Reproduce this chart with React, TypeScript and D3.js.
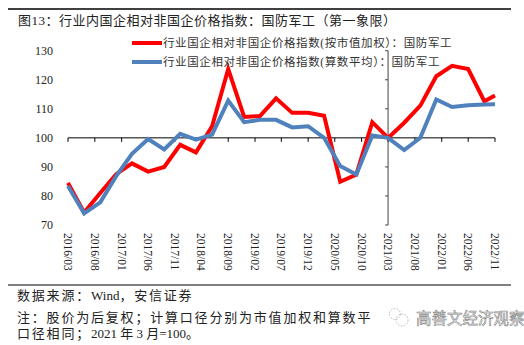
import React from "react";
import * as d3 from "d3";

const dates = ["2016/03","2016/06","2016/09","2016/12","2017/03","2017/06","2017/09","2017/12","2018/03","2018/06","2018/09","2018/12","2019/03","2019/06","2019/09","2019/12","2020/03","2020/06","2020/09","2020/12","2021/03","2021/06","2021/09","2021/12","2022/03","2022/06","2022/09","2022/11"];
const weighted = [84.5,74.3,81,87.5,91.2,88.4,90,97.6,95,104,123.7,107.2,107.5,113.6,108.6,108.6,107.6,84.9,87.4,105.4,100,105.2,111.1,121.2,124.8,123.7,112.6,114.6];
const average = [83.4,74.0,77.8,86.8,94.5,99.6,96,101.4,99.4,101.1,112.8,105.4,106.2,106.2,103.6,104,100,90.3,87.4,100.8,100,95.8,100,113.2,110.6,111.2,111.5,111.6];
const tickLabels = ["2016/03","2016/08","2017/01","2017/06","2017/11","2018/04","2018/09","2019/02","2019/07","2019/12","2020/05","2020/10","2021/03","2021/08","2022/01","2022/06","2022/11"];
const yTicks = [70,80,90,100,110,120,130];
const seriesNames = ["行业国企相对非国企价格指数(按市值加权）：国防军工","行业国企相对非国企价格指数(算数平均）：国防军工"];
const colors = ["#FF0000","#4F81BD"];

const parse = d3.timeParse("%Y/%m");

export default function App() {
  const W = 524, H = 345;
  const x = d3.scaleTime().domain([parse("2016/03")!, parse("2022/11")!]).range([68, 495]);
  const y = d3.scaleLinear().domain([70, 130]).range([225, 50.7]);
  const line = d3.line<[Date, number]>().x(d => x(d[0])).y(d => y(d[1]));
  const dd = dates.map(s => parse(s)!);
  const series = [weighted, average].map(v => dd.map((d, i) => [d, v[i]] as [Date, number]));
  const xAxisY = y(100);
  const yAxisX = x(parse("2021/03")!);
  const serif = "'Liberation Serif', 'Times New Roman', 'Noto Sans CJK SC', serif";
  const cjk = "'Liberation Serif', 'Noto Sans CJK SC', serif";
  return (
    <svg width={W} height={H} style={{ position: "absolute", left: 0, top: 0, background: "#fff" }}>
      <rect x={0} y={0} width={W} height={H} fill="#fff" />
      <line x1={8} x2={511} y1={9} y2={9} stroke="#000" strokeWidth={1.5} />
      <text x={18} y={24.5} fontSize={13} letterSpacing={0.5} fontFamily={cjk} fill="#222">图13：行业内国企相对非国企价格指数：国防军工（第一象限）</text>

      {/* y tick labels */}
      {yTicks.map(t => (
        <text key={t} x={53} y={y(t)} dy="0.35em" textAnchor="end" fontSize={12} fontFamily={serif} fill="#222">{t}</text>
      ))}
      {/* y axis */}
      <line x1={yAxisX} x2={yAxisX} y1={y(130)} y2={y(70)} stroke="#444" strokeWidth={1} />
      {yTicks.map(t => (
        <line key={"yt" + t} x1={yAxisX - 3} x2={yAxisX} y1={y(t)} y2={y(t)} stroke="#444" strokeWidth={1} />
      ))}
      {/* x axis */}
      <line x1={x(parse("2016/03")!)} x2={x(parse("2022/11")!)} y1={xAxisY} y2={xAxisY} stroke="#000" strokeWidth={1} />
      {tickLabels.map(t => (
        <line key={"xt" + t} x1={x(parse(t)!)} x2={x(parse(t)!)} y1={xAxisY} y2={xAxisY + 4} stroke="#000" strokeWidth={1} />
      ))}
      {tickLabels.map(t => (
        <text key={"xl" + t} transform={`translate(${x(parse(t)!)},233) rotate(90)`} dy="0.35em" fontSize={11.5} fontFamily={serif} fill="#222">{t}</text>
      ))}

      {series.map((s, i) => (
        <path key={i} d={line(s) || ""} fill="none" stroke={colors[i]} strokeWidth={4} strokeLinejoin="miter" />
      ))}

      {/* legend */}
      {seriesNames.map((n, i) => (
        <g key={n} transform={`translate(0,${43 + i * 19})`}>
          <rect x={131} y={-1.5} width={31} height={4} fill="#fff" />
          <line x1={132} x2={162} y1={0} y2={0} stroke={colors[i]} strokeWidth={4} />
          <text x={163} y={0} dy="0.35em" fontSize={11.5} letterSpacing={0.6} fontFamily={cjk} fill="#333">{n}</text>
        </g>
      ))}

      {/* footer */}
      <line x1={8} x2={511} y1={285} y2={285} stroke="#000" strokeWidth={1} />
      <text x={17} y={300} fontSize={13} fontFamily={cjk} fill="#222">
        <tspan letterSpacing={1.8}>数据来源：</tspan><tspan letterSpacing={0}>Wind</tspan><tspan letterSpacing={1.8}>，安信证券</tspan>
      </text>
      <text x={17} y={322} fontSize={13} letterSpacing={1.8} fontFamily={cjk} fill="#222">注：股价为后复权；计算口径分别为市值加权和算数平</text>
      <text x={17} y={338} fontSize={13} fontFamily={cjk} fill="#222">
        <tspan letterSpacing={1.8}>口径相同；</tspan><tspan letterSpacing={0}>2021 </tspan><tspan letterSpacing={0}>年 3 月=100</tspan><tspan>。</tspan>
      </text>
      <g opacity={0.7}>
        <circle cx={395} cy={314} r={5.5} fill="none" stroke="#999" strokeDasharray="1.5,1.5" />
        <circle cx={402} cy={320} r={6} fill="none" stroke="#999" strokeDasharray="1.5,1.5" />
      </g>
      <text x={416} y={324} fontSize={15.5} fontFamily="'Noto Sans CJK SC', sans-serif" fill="#fff" stroke="#888" strokeWidth={0.6}>高善文经济观察</text>
    </svg>
  );
}
